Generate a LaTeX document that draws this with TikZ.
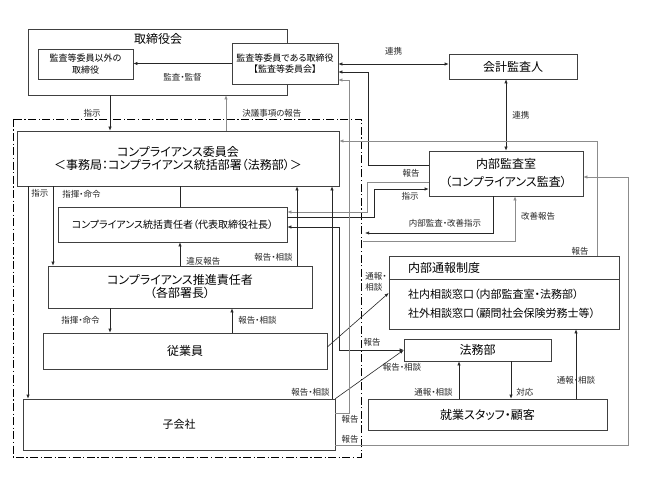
\documentclass[tikz,border=0pt]{standalone}
\usepackage{fontspec}
\setmainfont{Noto Sans CJK JP}[RawFeature=+palt]
\usetikzlibrary{arrows.meta,positioning,calc}

\newcommand\fbig{\fontsize{12}{13}\selectfont}
\newcommand\fmid{\fontsize{10}{12}\selectfont}
\newcommand\fsml{\fontsize{9}{11.5}\selectfont}

\tikzset{
  bx/.style={draw=black!75, line width=0.6pt, inner sep=1pt, align=center},
  lbl/.style={font=\fontsize{8.5}{11}\selectfont, inner sep=1pt, text=black!85},
  ln/.style={draw=black!85, line width=0.6pt},
  lng/.style={draw=black!45, line width=0.6pt},
  >={Latex[length=4pt,width=3.2pt]},
}

\begin{document}
\begin{tikzpicture}[x=1pt,y=-1pt]
\useasboundingbox (0,0) rectangle (645,484);

% boxes
\node[bx, minimum width=259, minimum height=66] (board) at (157.5,62) {};
\node[font=\fbig] (boardname) at (158,39) {取締役会};
\node[bx, font=\fsml, minimum width=95, minimum height=30] (notaudit) at (85.5,64) {監査等委員以外の\\取締役};
\node[bx, font=\fsml, fill=white, minimum width=106, minimum height=41] (auditcom) at (285,63.5) {監査等委員である取締役\\【監査等委員会】};
\node[bx, font=\fbig, minimum width=128, minimum height=25] (accountant) at (513,66.5) {会計監査人};

\node[bx, font=\fbig, minimum width=322, minimum height=55] (committee) at (178,158.5) {コンプライアンス委員会\\＜事務局：コンプライアンス統括部署（法務部）＞};
\node[bx, font=\fmid, minimum width=229, minimum height=35] (chief) at (172.5,224.5) {コンプライアンス統括責任者（代表取締役社長）};
\node[bx, font=\fbig, minimum width=264, minimum height=42] (promoter) at (180,287) {コンプライアンス推進責任者\\（各部署長）};
\node[bx, font=\fbig, minimum width=284, minimum height=36] (employee) at (185,351) {従業員};
\node[bx, font=\fontsize{11}{13}\selectfont, minimum width=312, minimum height=51] (subsidiary) at (179,424.5) {子会社};

\node[bx, font=\fontsize{12}{18}\selectfont, minimum width=154, minimum height=45] (audit) at (506,173.5) {内部監査室\\（コンプライアンス監査）};
\node[bx, minimum width=230, minimum height=73] (whistle) at (504,292.5) {};
\node[font=\fbig, anchor=west, inner sep=0pt] (whistletitle) at (408,268) {内部通報制度};
\node[font=\fontsize{11}{19}\selectfont, anchor=west, align=left, inner sep=0pt] (whistletext) at (408,303.5) {社内相談窓口（内部監査室・法務部）\\社外相談窓口（顧問社会保険労務士等）};
\draw[draw=black!75, line width=0.6pt] (whistle.west |- 0,279) -- (whistle.east |- 0,279);
\node[bx, font=\fbig, minimum width=147, minimum height=22] (legal) at (477.5,350) {法務部};
\node[bx, font=\fbig, minimum width=239, minimum height=31] (staff) at (487.5,414.5) {就業スタッフ・顧客};

% compliance organisation
\draw[dash pattern=on 8pt off 2.5pt on 1.2pt off 2.5pt, line width=0.8pt] (13,119) rectangle (361,457);

% board level
\draw[ln,->] (auditcom.west) -- (auditcom.west -| notaudit.east) node[lbl,midway,below=9pt] (lkansa) {監査・監督};
\draw[ln,->] (110,0 |- board.south) -- (110,0 |- committee.north) node[lbl,midway,left=8pt] (lshiji) {指示};
\draw[lng,->] (226,0 |- committee.north) -- (226,0 |- board.south) node[lbl,midway,right=15pt] (lketsugi) {決議事項の報告};
\draw[ln,<->] (auditcom.east |- 0,64) -- (accountant.west |- 0,64) node[lbl,midway,above=7pt] (lrenkei) {連携};
\draw[ln,<->] (506,0 |- accountant.south) -- (506,0 |- audit.north) node[lbl,midway,right=5pt] (lrenkeib) {連携};

% internal audit
\draw[ln,->] (audit.west |- 0,165) -| (368,72) -- (auditcom.east |- 0,72);
\draw[lng,->] (audit.west |- 0,182) -| (367,212) -- (chief.east |- 0,212);
\node[lbl] (lhoukoku) at (411,173) {報告};
\draw[ln,->] (chief.east |- 0,217) -| (374,189) -- (audit.west |- 0,189);
\node[lbl] (lshijib) at (410,196) {指示};
\coordinate (auditin) at (365,233);
\coordinate (improve) at (363,241);
\draw[ln,->] (493,0 |- audit.south) |- (auditin);
\node[lbl] (lnaibu) at (445,223) {内部監査・改善指示};
\draw[lng,->] (improve) -| (515,0 |- audit.south);
\node[lbl] (lkaizen) at (538,216) {改善報告};
\draw[lng,->] (597,0 |- whistle.north) |- (committee.east |- 0,141);
\node[lbl] (lhoukokub) at (580,251) {報告};
\draw[ln,<->] (chief.east |- 0,227) -| (339,0 |- legal.west) -- (legal.west);
\node[lbl] (lhoukokuc) at (372,342) {報告};

% inside the organisation
\draw[ln,->] (28,0 |- committee.south) -- (28,0 |- subsidiary.north) node[lbl,pos=0.034,right=2pt] (lshijic) {指示};
\draw[ln,->] (53,0 |- committee.south) -- (53,0 |- promoter.north) node[lbl,pos=0.1,right=8pt] (lshiki) {指揮・命令};
\draw[ln] (180,0 |- committee.south) -- (180,0 |- chief.north);
\draw[ln,->] (180,0 |- promoter.north) -- (180,0 |- chief.south) node[lbl,pos=0.17,right=5pt] (lihan) {違反報告};
\draw[ln,->] (297,0 |- promoter.north) -- (297,0 |- committee.south) node[lbl,pos=0.1,left=3pt] (lsoudan) {報告・相談};
\draw[ln,->] (332,0 |- subsidiary.north) -- (332,0 |- committee.south) node[lbl,pos=0.03,left=1pt] (lsoudanb) {報告・相談};
\draw[ln,->] (110,0 |- promoter.south) -- (110,0 |- employee.north) node[lbl,midway,left=9pt] (lshikib) {指揮・命令};
\draw[ln,->] (232,0 |- employee.north) -- (232,0 |- promoter.south) node[lbl,midway,right=5pt] (lsoudanc) {報告・相談};

% reporting lines
\draw[ln,->] (employee.east |- 0,347) -- (whistle.west |- 0,293);
\node[lbl, align=left] (ltsuhou) at (376,282) {通報・\\相談};
\draw[ln,->] (subsidiary.north east) -- (legal.west);
\node[lbl] (lsoudand) at (402,367) {報告・相談};
\draw[lng,->] (subsidiary.east |- 0,413) -| (349,80) -- (auditcom.east |- 0,80);
\node[lbl] (lhoukokud) at (350,419) {報告};
\draw[lng,->] (subsidiary.east |- 0,445) -| (628,177) -- (audit.east |- 0,177);
\node[lbl] (lhoukokue) at (350,439) {報告};

% staff
\draw[ln,->] (459,0 |- staff.north) -- (459,0 |- legal.south) node[lbl,pos=0.18,left=5pt] (ltsuhoub) {通報・相談};
\draw[ln,->] (511,0 |- legal.south) -- (511,0 |- staff.north) node[lbl,pos=0.84,right=4pt] (ltaiou) {対応};
\draw[ln,->] (576,0 |- staff.north) -- (576,0 |- whistle.south) node[lbl,pos=0.26] (ltsuhouc) {通報・相談};
\end{tikzpicture}
\end{document}
